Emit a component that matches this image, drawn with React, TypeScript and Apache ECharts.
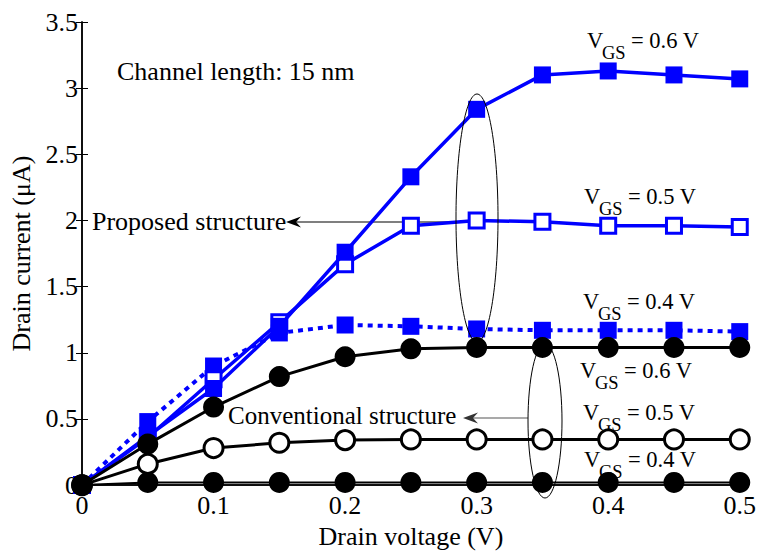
import React, { useEffect, useRef } from 'react';
import * as echarts from 'echarts';

const xValues = [0, 0.05, 0.1, 0.15, 0.2, 0.25, 0.3, 0.35, 0.4, 0.45, 0.5];
const proposed06 = [0, 0.37, 0.73, 1.2, 1.76, 2.33, 2.84, 3.1, 3.13, 3.1, 3.07];
const proposed05 = [0, 0.36, 0.8, 1.23, 1.67, 1.96, 2.0, 1.99, 1.96, 1.96, 1.95];
const proposed04 = [0, 0.48, 0.9, 1.15, 1.21, 1.2, 1.18, 1.17, 1.17, 1.17, 1.16];
const conv06 = [0, 0.31, 0.59, 0.82, 0.97, 1.03, 1.04, 1.04, 1.04, 1.04, 1.04];
const conv05 = [0, 0.16, 0.28, 0.32, 0.34, 0.345, 0.345, 0.345, 0.345, 0.345, 0.345];
const conv04 = [0, 0.02, 0.02, 0.02, 0.02, 0.02, 0.02, 0.02, 0.02, 0.02, 0.02];

const vgsLabels = ['0.6', '0.5', '0.4', '0.6', '0.5', '0.4'];

const FONT = "'Liberation Serif', 'Times New Roman', serif";
const BLUE = '#0000ff';

const pairs = (ys: number[]) => xValues.map((x, i) => [x, ys[i]]);

function txt(text: string, x: number, baseline: number, size: number, color = '#000') {
  return {
    type: 'text',
    x,
    y: baseline - 0.34 * size,
    silent: true,
    style: {
      text,
      fontSize: size,
      fontFamily: FONT,
      fill: color,
      align: 'left',
      verticalAlign: 'middle',
      textAlign: 'left',
      textVerticalAlign: 'middle',
    },
  };
}

function vgs(value: string, x: number, baseline: number) {
  return [
    txt('V', x, baseline, 22.5),
    txt('GS', x + 15, baseline + 11, 18.5),
    txt('= ' + value + ' V', x + 44, baseline, 22.5),
  ];
}

export default function App() {
  const ref = useRef<HTMLDivElement>(null);
  useEffect(() => {
    document.body.style.margin = '0';
    const chart = echarts.init(ref.current!, null, { renderer: 'svg' });
    const axisCommon = {
      axisLine: { show: true, lineStyle: { color: '#000', width: 1.5 } },
      axisTick: { show: true, inside: true, length: 6, lineStyle: { color: '#000', width: 1 } },
      splitLine: { show: false },
    };
    const option: any = {
      animation: false,
      backgroundColor: '#fff',
      grid: { left: 82, top: 22, right: 17, bottom: 65, containLabel: false },
      xAxis: [
        {
          type: 'value',
          min: 0,
          max: 0.5,
          interval: 0.1,
          position: 'bottom',
          ...axisCommon,
          axisLabel: {
            margin: 7,
            color: '#000',
            fontSize: 26,
            fontFamily: FONT,
            formatter: (v: number) => String(Math.round(v * 10) / 10),
          },
          name: 'Drain voltage (V)',
          nameLocation: 'middle',
          nameGap: 34,
          nameTextStyle: { color: '#000', fontSize: 26, fontFamily: FONT },
        },
        {
          type: 'value',
          min: 0,
          max: 0.5,
          interval: 0.1,
          position: 'top',
          ...axisCommon,
          axisLabel: { show: false },
        },
      ],
      yAxis: [
        {
          type: 'value',
          min: 0,
          max: 3.5,
          interval: 0.5,
          position: 'left',
          ...axisCommon,
          axisLabel: {
            margin: 4,
            color: '#000',
            fontSize: 26,
            fontFamily: FONT,
            formatter: (v: number) => String(Math.round(v * 10) / 10),
          },
          name: 'Drain current (\u03bcA)',
          nameLocation: 'middle',
          nameGap: 44,
          nameRotate: 90,
          nameTextStyle: { color: '#000', fontSize: 26, fontFamily: FONT },
        },
        {
          type: 'value',
          min: 0,
          max: 3.5,
          interval: 0.5,
          position: 'right',
          ...axisCommon,
          axisLabel: { show: false },
        },
      ],
      series: [
        {
          name: 'Proposed VGS 0.4 V',
          type: 'line',
          data: pairs(proposed04),
          symbol: 'rect',
          symbolSize: 17,
          itemStyle: { color: BLUE },
          lineStyle: { color: BLUE, width: 4, type: [5, 5] },
          z: 2,
        },
        {
          name: 'Proposed VGS 0.5 V',
          type: 'line',
          data: pairs(proposed05),
          symbol: 'rect',
          symbolSize: 15,
          itemStyle: { color: '#fff', borderColor: BLUE, borderWidth: 3 },
          lineStyle: { color: BLUE, width: 3.5 },
          z: 3,
        },
        {
          name: 'Proposed VGS 0.6 V',
          type: 'line',
          data: pairs(proposed06),
          symbol: 'rect',
          symbolSize: 17,
          itemStyle: { color: BLUE },
          lineStyle: { color: BLUE, width: 3.5 },
          z: 4,
        },
        {
          name: 'Conventional VGS 0.4 V',
          type: 'line',
          data: pairs(conv04),
          symbol: 'circle',
          symbolSize: 21,
          itemStyle: { color: '#000' },
          lineStyle: { color: '#000', width: 2 },
          z: 5,
        },
        {
          name: 'Conventional VGS 0.5 V',
          type: 'line',
          data: pairs(conv05),
          symbol: 'circle',
          symbolSize: 19,
          itemStyle: { color: '#fff', borderColor: '#000', borderWidth: 3 },
          lineStyle: { color: '#000', width: 3 },
          z: 6,
        },
        {
          name: 'Conventional VGS 0.6 V',
          type: 'line',
          data: pairs(conv06),
          symbol: 'circle',
          symbolSize: 21,
          itemStyle: { color: '#000' },
          lineStyle: { color: '#000', width: 3 },
          z: 7,
        },
      ],
      graphic: [
        txt('Channel length: 15 nm', 117, 80.5, 26),
        txt('Proposed structure', 92, 230, 26),
        txt('Conventional structure', 228, 424, 25),
        ...vgs(vgsLabels[0], 587, 48),
        ...vgs(vgsLabels[1], 584, 204),
        ...vgs(vgsLabels[2], 583, 309),
        ...vgs(vgsLabels[3], 580, 378),
        ...vgs(vgsLabels[4], 583, 420),
        ...vgs(vgsLabels[5], 584, 467),
        {
          type: 'ellipse',
          silent: true,
          shape: { cx: 477, cy: 218, rx: 21, ry: 124 },
          style: { fill: 'none', stroke: '#000', lineWidth: 1 },
          z: 10,
        },
        {
          type: 'ellipse',
          silent: true,
          shape: { cx: 545, cy: 421, rx: 17, ry: 77 },
          style: { fill: 'none', stroke: '#000', lineWidth: 1 },
          z: 10,
        },
        {
          type: 'line',
          silent: true,
          shape: { x1: 456, y1: 222, x2: 292, y2: 222 },
          style: { stroke: '#000', lineWidth: 1.2 },
        },
        {
          type: 'polygon',
          silent: true,
          shape: { points: [[286, 222], [301, 216.5], [296, 222], [301, 227.5]] },
          style: { fill: '#000' },
        },
        {
          type: 'line',
          silent: true,
          shape: { x1: 528, y1: 418, x2: 468, y2: 418 },
          style: { stroke: '#555', lineWidth: 1.2 },
        },
        {
          type: 'polygon',
          silent: true,
          shape: { points: [[463, 418], [478, 412.5], [473, 418], [478, 423.5]] },
          style: { fill: '#333' },
        },
      ],
    };
    chart.setOption(option);
    return () => chart.dispose();
  }, []);
  return <div ref={ref} style={{ width: 759, height: 554 }} />;
}
